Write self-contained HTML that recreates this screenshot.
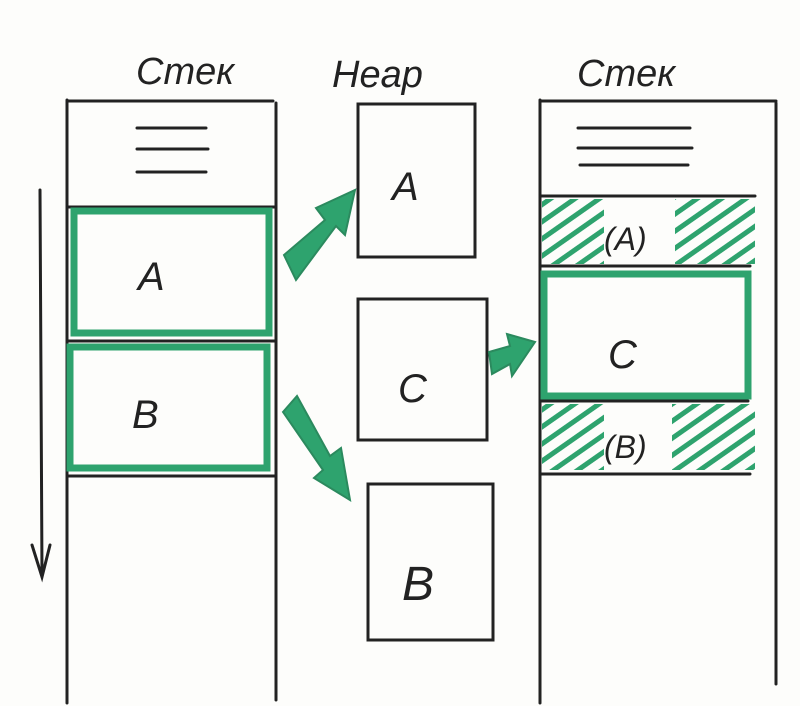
<!DOCTYPE html>
<html><head><style>html,body{margin:0;padding:0;background:#fff;}svg{display:block}</style></head>
<body>
<svg width="800" height="706" viewBox="0 0 800 706" xmlns="http://www.w3.org/2000/svg">
<defs>
<pattern id="h" width="14" height="14" patternUnits="userSpaceOnUse" patternTransform="rotate(-35)">
<rect x="0" y="0" width="14" height="5" fill="#2ea36e"/>
</pattern>
</defs>
<rect width="800" height="706" fill="#fdfdfb"/>
<g font-family="Liberation Sans, sans-serif" font-style="italic" fill="#222" font-size="38">
<text x="136" y="84">Стек</text>
<text x="332" y="87">Heap</text>
<text x="577" y="86">Стек</text>
</g>
<g stroke="#222" stroke-width="3" fill="none" stroke-linecap="round">
<line x1="67" y1="100" x2="67" y2="703"/>
<line x1="276" y1="103" x2="276" y2="700"/>
<line x1="67" y1="101" x2="273" y2="101"/>
<line x1="137" y1="128" x2="206" y2="128"/>
<line x1="137" y1="149" x2="208" y2="149"/>
<line x1="137" y1="172" x2="206" y2="172"/>
<line x1="68" y1="207" x2="275" y2="207"/>
<line x1="68" y1="341" x2="275" y2="341"/>
<line x1="68" y1="476" x2="275" y2="476"/>
<line x1="40" y1="190" x2="42" y2="575"/>
<polyline points="32,545 42,577 50,545"/>
<rect x="358" y="104" width="117" height="153"/>
<rect x="358" y="299" width="129" height="141"/>
<rect x="368" y="484" width="125" height="156"/>
<line x1="540" y1="100" x2="540" y2="703"/>
<line x1="776" y1="103" x2="776" y2="684"/>
<line x1="540" y1="101" x2="776" y2="101"/>
<line x1="578" y1="128" x2="690" y2="128"/>
<line x1="578" y1="148" x2="692" y2="148"/>
<line x1="580" y1="165" x2="688" y2="165"/>
<line x1="540" y1="196" x2="755" y2="196"/>
<line x1="540" y1="266" x2="750" y2="266"/>
<line x1="540" y1="401" x2="748" y2="401"/>
<line x1="540" y1="474" x2="750" y2="474"/>
</g>
<rect x="542" y="199" width="62" height="65" fill="url(#h)"/>
<rect x="675" y="199" width="80" height="65" fill="url(#h)"/>
<rect x="542" y="404" width="62" height="66" fill="url(#h)"/>
<rect x="672" y="404" width="83" height="66" fill="url(#h)"/>
<g stroke="#2ea36e" stroke-width="7" fill="none">
<rect x="74" y="211" width="195" height="122"/>
<rect x="70" y="347" width="197" height="121"/>
<rect x="544" y="274" width="204" height="122"/>
</g>
<g fill="#2ea36e" stroke="#2b8a5e" stroke-width="2">
<polygon points="284,255 325,220 316,208 355,190 345,235 336,226 296,280"/>
<polygon points="283,412 297,396 330,456 341,448 350,500 314,478 323,470"/>
<polygon points="489,352 510,346 507,334 535,342 512,376 510,364 492,374"/>
</g>
<g font-family="Liberation Sans, sans-serif" font-style="italic" fill="#222" font-size="40">
<text x="138" y="290">A</text>
<text x="132" y="428">B</text>
<text x="392" y="200">A</text>
<text x="398" y="402">C</text>
<text x="402" y="600" font-size="48">B</text>
<text x="608" y="368">C</text>
<text x="604" y="250" font-size="32">(A)</text>
<text x="604" y="458" font-size="32">(B)</text>
</g>
</svg>
</body></html>
